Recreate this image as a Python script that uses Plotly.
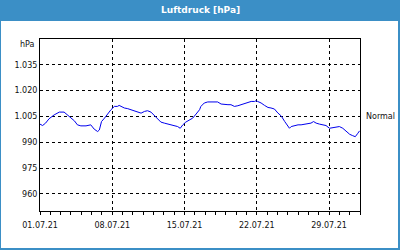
import plotly.graph_objects as go

# --- data ---
times = [
    "2021-07-01 00:00", "2021-07-01 06:00", "2021-07-01 13:00", "2021-07-01 21:00",
    "2021-07-02 09:00", "2021-07-02 21:00", "2021-07-03 08:00", "2021-07-03 16:00",
    "2021-07-04 00:00", "2021-07-04 08:00", "2021-07-04 15:00", "2021-07-04 23:00",
    "2021-07-05 11:00", "2021-07-05 22:00", "2021-07-06 06:00", "2021-07-06 14:00",
    "2021-07-06 18:00", "2021-07-06 23:00", "2021-07-07 06:00", "2021-07-07 13:00",
    "2021-07-07 21:00", "2021-07-08 05:00", "2021-07-08 12:00", "2021-07-08 16:00",
    "2021-07-08 20:00", "2021-07-09 04:00", "2021-07-09 12:00", "2021-07-09 19:00",
    "2021-07-10 03:00", "2021-07-10 11:00", "2021-07-10 19:00", "2021-07-11 03:00",
    "2021-07-11 10:00", "2021-07-11 18:00", "2021-07-12 02:00", "2021-07-12 10:00",
    "2021-07-12 17:00", "2021-07-13 01:00", "2021-07-13 09:00", "2021-07-13 17:00",
    "2021-07-14 00:00", "2021-07-14 08:00", "2021-07-14 14:00", "2021-07-14 20:00",
    "2021-07-15 03:00", "2021-07-15 11:00", "2021-07-15 19:00", "2021-07-16 03:00",
    "2021-07-16 11:00", "2021-07-16 14:00", "2021-07-16 22:00", "2021-07-17 06:00",
    "2021-07-17 14:00", "2021-07-17 22:00", "2021-07-18 05:00", "2021-07-18 13:00",
    "2021-07-18 21:00", "2021-07-19 05:00", "2021-07-19 12:00", "2021-07-19 20:00",
    "2021-07-20 04:00", "2021-07-20 12:00", "2021-07-20 19:00", "2021-07-21 03:00",
    "2021-07-21 11:00", "2021-07-21 19:00", "2021-07-21 22:00", "2021-07-22 02:00",
    "2021-07-22 10:00", "2021-07-22 18:00", "2021-07-23 02:00", "2021-07-23 09:00",
    "2021-07-23 17:00", "2021-07-24 01:00", "2021-07-24 09:00", "2021-07-24 17:00",
    "2021-07-25 00:00", "2021-07-25 04:00", "2021-07-25 08:00", "2021-07-25 16:00",
    "2021-07-26 00:00", "2021-07-26 07:00", "2021-07-26 15:00", "2021-07-26 23:00",
    "2021-07-27 06:00", "2021-07-27 12:00", "2021-07-27 18:00", "2021-07-28 02:00",
    "2021-07-28 10:00", "2021-07-28 17:00", "2021-07-29 01:00", "2021-07-29 09:00",
    "2021-07-29 17:00", "2021-07-30 00:00", "2021-07-30 08:00", "2021-07-30 16:00",
    "2021-07-31 00:00", "2021-07-31 07:00", "2021-07-31 13:00", "2021-07-31 19:00",
    "2021-07-31 23:00",
]
pressure = [
    1000.5, 999.7, 1001.1, 1003.6,
    1005.9, 1007.5, 1007.5, 1005.9,
    1004.0, 1002.4, 1000.1, 999.5,
    999.5, 1000.1, 997.6, 996.2,
    997.1, 1002.0, 1004.0, 1006.5,
    1008.9, 1010.8, 1010.8, 1011.4,
    1010.8, 1009.9, 1009.5, 1008.9,
    1008.3, 1007.5, 1006.9, 1007.9,
    1008.3, 1007.5, 1005.5, 1003.6,
    1001.7, 1001.1, 1000.5, 1000.1,
    999.7, 999.1, 998.1, 1000.1,
    1001.7, 1003.0, 1004.0, 1006.4,
    1008.9, 1010.8, 1012.8, 1013.4,
    1013.4, 1013.0, 1013.4, 1012.2,
    1011.8, 1011.8, 1011.8, 1010.8,
    1011.2, 1011.8, 1012.2, 1012.8,
    1013.7, 1013.7, 1014.1, 1013.7,
    1012.8, 1011.4, 1010.2, 1009.9,
    1009.3, 1007.0, 1005.2, 1002.0,
    999.1, 998.1, 999.1, 999.7,
    1000.1, 1000.1, 1000.5, 1001.1,
    1001.1, 1002.0, 1001.1, 1000.5,
    1000.1, 999.7, 998.1, 998.5,
    999.1, 999.1, 998.1, 996.2,
    994.6, 993.8, 993.2, 995.2,
    996.6,
]
y_tickvals = [960, 975, 990, 1005, 1020, 1035]
y_ticktext = ["960", "975", "990", "1.005", "1.020", "1.035"]
x_tickvals = ["2021-07-01", "2021-07-08", "2021-07-15", "2021-07-22", "2021-07-29"]
x_ticktext = ["01.07.21", "08.07.21", "15.07.21", "22.07.21", "29.07.21"]
title_text = "Luftdruck [hPa]"
unit_text = "hPa"
normal_text = "Normal"
normal_level = 1005

BLUE = "#3b8fc6"
FONT = "DejaVu Sans"

W, H = 400, 250
L, R, T, B = 40, 40, 39, 39
pw, ph = W - L - R, H - T - B


def px(x):
    return (x - L) / pw


def py(y):
    return (H - B - y) / ph


fig = go.Figure()
fig.add_trace(go.Scatter(
    x=times, y=pressure, mode="lines",
    line=dict(color="#0000ee", width=1),
    hoverinfo="skip", showlegend=False,
))

fig.update_layout(
    width=W, height=H,
    margin=dict(l=L, r=R, t=T, b=B, pad=0),
    paper_bgcolor=BLUE,
    plot_bgcolor="white",
    font=dict(family=FONT, size=8, color="#111111"),
    showlegend=False,
    shapes=[
        dict(type="rect", xref="paper", yref="paper", layer="below",
             x0=px(1), x1=px(398), y0=py(248), y1=py(21),
             fillcolor="white", line=dict(width=0)),
    ],
    annotations=[
        dict(text=f"<b>{title_text}</b>", xref="paper", yref="paper",
             x=px(200), y=py(10.5), xanchor="center", yanchor="middle",
             showarrow=False, font=dict(family=FONT, size=9, color="white")),
        dict(text=unit_text, xref="paper", yref="paper",
             x=px(37), y=py(45), xanchor="right", yanchor="middle",
             showarrow=False, font=dict(family=FONT, size=8, color="#111111")),
        dict(text=normal_text, xref="paper", yref="y",
             x=px(364), y=normal_level, xanchor="left", yanchor="middle",
             showarrow=False, font=dict(family=FONT, size=8, color="#111111")),
    ],
)

fig.update_xaxes(
    type="date",
    range=["2021-07-01", "2021-08-01"],
    tickvals=x_tickvals, ticktext=x_ticktext,
    showline=True, linecolor="black", linewidth=1, mirror=True,
    showgrid=True, gridcolor="black", gridwidth=1, griddash="3px,3px",
    ticks="outside", ticklen=3, tickcolor="black", tickwidth=1,
    ticklabelstandoff=3,
    minor=dict(dtick=86400000, tick0="2021-07-01", ticks="outside", ticklen=3,
               tickcolor="black", showgrid=False),
    zeroline=False, fixedrange=True,
)
fig.update_yaxes(
    range=[950, 1050],
    tickvals=y_tickvals, ticktext=y_ticktext,
    showline=True, linecolor="black", linewidth=1, mirror=True,
    showgrid=True, gridcolor="black", gridwidth=1, griddash="3px,3px",
    ticks="", zeroline=False, fixedrange=True,
)

fig.write_html("out.html", config={"displayModeBar": False})
